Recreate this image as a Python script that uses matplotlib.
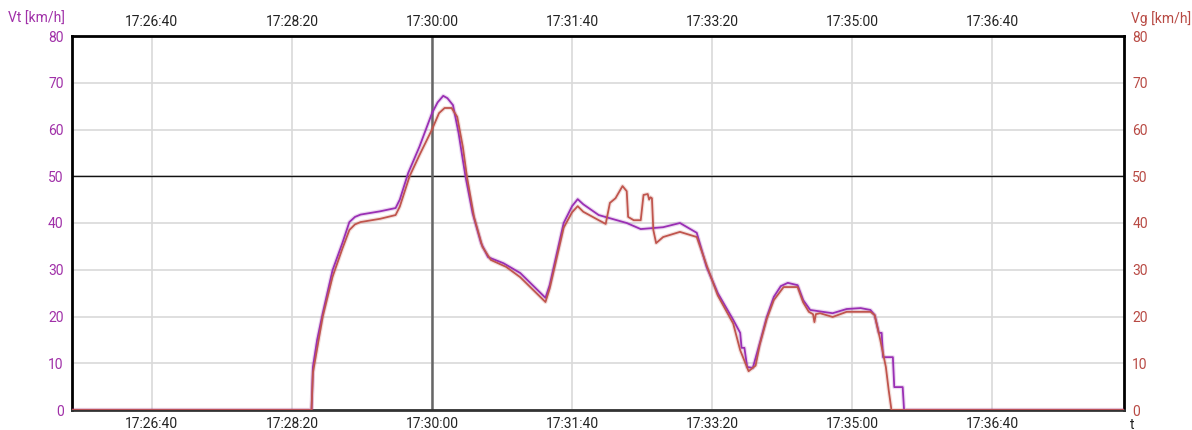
import matplotlib
matplotlib.use("Agg")
import matplotlib.pyplot as plt
from matplotlib.ticker import FuncFormatter, MultipleLocator

plt.rcParams['font.family'] = ['Roboto', 'DejaVu Sans']

# Speed log: Vt (purple) and Vg (red), km/h
vt_time = ["17:25:43", "17:28:34", "17:28:35", "17:28:38", "17:28:42", "17:28:49",
           "17:28:56", "17:29:01", "17:29:05", "17:29:09", "17:29:23", "17:29:34",
           "17:29:37", "17:29:43", "17:29:51", "17:30:00", "17:30:04", "17:30:08",
           "17:30:11", "17:30:15", "17:30:19", "17:30:22", "17:30:24", "17:30:29",
           "17:30:35", "17:30:40", "17:30:51", "17:31:03", "17:31:21", "17:31:24",
           "17:31:34", "17:31:40", "17:31:44", "17:31:48", "17:31:59", "17:32:19",
           "17:32:29", "17:32:45", "17:32:57", "17:33:09", "17:33:16", "17:33:24",
           "17:33:35", "17:33:40", "17:33:41", "17:33:43", "17:33:45", "17:33:49",
           "17:33:54", "17:33:59", "17:34:04", "17:34:09", "17:34:14", "17:34:21",
           "17:34:25", "17:34:30", "17:34:39", "17:34:46", "17:34:56", "17:35:06",
           "17:35:13", "17:35:16", "17:35:19", "17:35:21", "17:35:22", "17:35:29",
           "17:35:30", "17:35:36", "17:35:37", "17:38:14"]
vt_kmh = [0, 0, 9.2, 15.0, 20.7, 29.9,
          35.7, 40.2, 41.3, 41.8, 42.5, 43.2,
          45.0, 50.7, 56.3, 63.5, 65.8, 67.2,
          66.7, 65.2, 59.2, 53.5, 49.8, 42.1,
          35.7, 32.7, 31.4, 29.3, 24.0, 26.7,
          40.0, 43.6, 45.1, 44.0, 41.7, 40.0,
          38.7, 39.1, 40.0, 37.9, 30.6, 25.0,
          19.3, 16.5, 13.3, 13.3, 9.2, 9.0,
          14.3, 19.9, 24.2, 26.5, 27.2, 26.7,
          23.5, 21.4, 21.0, 20.7, 21.6, 21.8,
          21.4, 20.3, 16.5, 16.5, 11.3, 11.3,
          4.9, 4.9, 0, 0]

vg_time = ["17:25:43", "17:28:34", "17:28:35", "17:28:42", "17:28:49", "17:28:56",
           "17:29:01", "17:29:05", "17:29:09", "17:29:23", "17:29:34", "17:29:37",
           "17:29:44", "17:29:51", "17:30:00", "17:30:05", "17:30:09", "17:30:14",
           "17:30:18", "17:30:22", "17:30:25", "17:30:30", "17:30:36", "17:30:42",
           "17:30:53", "17:31:03", "17:31:21", "17:31:24", "17:31:34", "17:31:40",
           "17:31:44", "17:31:48", "17:31:59", "17:32:04", "17:32:07", "17:32:11",
           "17:32:16", "17:32:19", "17:32:20", "17:32:24", "17:32:29", "17:32:31",
           "17:32:34", "17:32:35", "17:32:36", "17:32:37", "17:32:38", "17:32:40",
           "17:32:45", "17:32:57", "17:33:09", "17:33:16", "17:33:24", "17:33:35",
           "17:33:40", "17:33:46", "17:33:51", "17:33:54", "17:33:59", "17:34:04",
           "17:34:11", "17:34:21", "17:34:25", "17:34:29", "17:34:32", "17:34:33",
           "17:34:34", "17:34:37", "17:34:46", "17:34:56", "17:35:13", "17:35:16",
           "17:35:20", "17:35:24", "17:35:26", "17:35:28", "17:38:14"]
vg_kmh = [0, 0, 8.0, 20.0, 28.5, 34.5,
          38.5, 39.7, 40.2, 40.9, 41.7, 43.5,
          50.0, 54.5, 60.0, 63.5, 64.6, 64.6,
          62.7, 56.3, 49.8, 41.3, 34.9, 32.1,
          30.6, 28.4, 23.1, 26.0, 39.0, 42.3,
          43.6, 42.4, 40.6, 39.8, 44.3, 45.3,
          47.9, 46.8, 41.3, 40.6, 40.6, 46.0,
          46.2, 45.0, 45.5, 45.3, 38.5, 35.7,
          37.0, 38.1, 37.0, 31.0, 24.5, 18.5,
          12.8, 8.3, 9.5, 14.0, 19.5, 23.5,
          26.3, 26.3, 23.0, 21.0, 20.5, 18.8,
          20.5, 20.7, 19.9, 21.0, 21.0, 20.3,
          15.0, 9.2, 4.3, 0, 0]

x_ticks = ["17:26:40", "17:28:20", "17:30:00", "17:31:40", "17:33:20", "17:35:00", "17:36:40"]
cursor_time = "17:30:00"
cursor_value = 50


def to_sec(s):
    h, m, sec = (int(p) for p in s.split(":"))
    return h * 3600 + m * 60 + sec


def fmt_time(v, _pos=None):
    v = int(round(v))
    return f"{v // 3600:02d}:{(v % 3600) // 60:02d}:{v % 60:02d}"


vt_x = [to_sec(s) for s in vt_time]
vg_x = [to_sec(s) for s in vg_time]
tick_x = [to_sec(s) for s in x_ticks]

PURPLE = "#a030a8"
RED = "#b84a44"
LINE_PURPLE = "#9a2fb4"
LINE_RED = "#c0554d"

fig = plt.figure(figsize=(11.92, 4.30), dpi=100)
ax = fig.add_axes([72 / 1192, 20 / 430, (1124 - 72) / 1192, (410 - 36) / 430])

ax.set_xlim(vt_x[0], vt_x[-1])
ax.set_ylim(0, 80)
ax.set_xticks(tick_x)
ax.xaxis.set_major_formatter(FuncFormatter(fmt_time))
ax.yaxis.set_major_locator(MultipleLocator(10))
ax.grid(True, color="#d9d9d9", linewidth=1.2, zorder=0)
ax.set_axisbelow(True)

# cursor cross-hair
ax.axhline(cursor_value, color="#111111", linewidth=1.0, zorder=2)
ax.axvline(to_sec(cursor_time), color="#666666", linewidth=1.8, zorder=2)

# soft halo + main line for both series
ax.plot(vg_x, vg_kmh, color=LINE_RED, linewidth=3.0, alpha=0.18, zorder=3, solid_joinstyle="round")
ax.plot(vt_x, vt_kmh, color=LINE_PURPLE, linewidth=3.0, alpha=0.18, zorder=3, solid_joinstyle="round")
ax.plot(vt_x, vt_kmh, color=LINE_PURPLE, linewidth=1.3, zorder=4)
ax.plot(vg_x, vg_kmh, color=LINE_RED, linewidth=1.3, zorder=5)

for side in ["left", "right", "top", "bottom"]:
    ax.spines[side].set_linewidth(2.0)
    ax.spines[side].set_color("#000000")
ax.spines["bottom"].set_color("#333333")

ax.tick_params(axis="x", length=0, pad=5, labelsize=10, colors="#222222",
               top=True, labeltop=True, bottom=True, labelbottom=True)
ax.tick_params(axis="y", length=0, pad=6, labelsize=10, labelcolor=PURPLE)

axr = ax.twinx()
axr.set_ylim(0, 80)
axr.yaxis.set_major_locator(MultipleLocator(10))
axr.tick_params(axis="y", length=0, pad=6, labelsize=10, labelcolor=RED)
for side in ["left", "right", "top", "bottom"]:
    axr.spines[side].set_visible(False)

fig.text(65 / 1192, 1 - 19 / 430, "Vt [km/h]", color=PURPLE, fontsize=10,
         ha="right", va="center")
fig.text(1131 / 1192, 1 - 19 / 430, "Vg [km/h]", color=RED, fontsize=10,
         ha="left", va="center")
fig.text(1130 / 1192, 1 - 425 / 430, "t", color="#222222", fontsize=10,
         ha="left", va="center")

fig.savefig("out.png", dpi=100, facecolor="white")
